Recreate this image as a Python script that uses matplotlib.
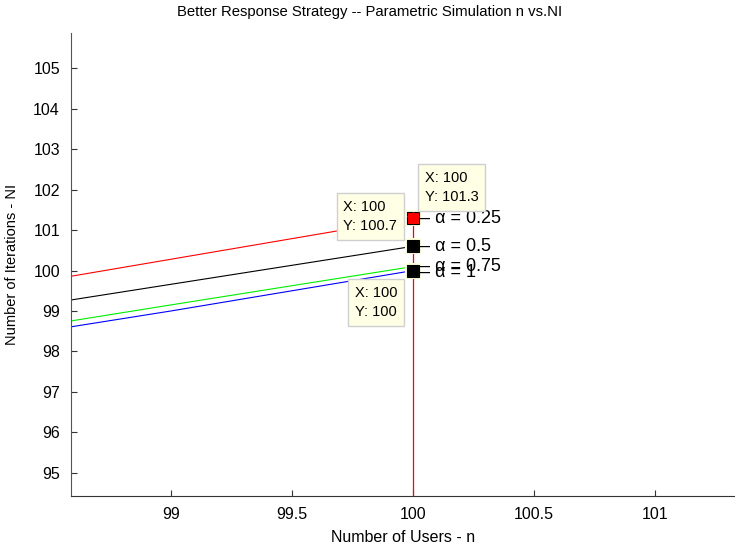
import matplotlib
matplotlib.use("Agg")
import matplotlib.pyplot as plt

plt.rcParams['font.family'] = ['Liberation Sans', 'DejaVu Sans']

# number of users n
n = [98, 99, 100]

# number of iterations NI for each alpha
ni_025 = [99.26, 100.28, 101.3]
ni_050 = [98.72, 99.66, 100.6]
ni_075 = [98.19, 99.15, 100.1]
ni_100 = [98.05, 99.0, 100.0]

alpha_labels = ['0.25', '0.5', '0.75', '1']
alpha_y = [101.3, 100.6, 100.09, 99.94]

# data tips
tip_x = [100, 100, 100]
tip_y = [101.3, 100.7, 100]
tip_marker_y = [101.3, 100.6, 100.0]

xticks = [99, 99.5, 100, 100.5, 101]
xticklabels = ['99', '99.5', '100', '100.5', '101']
yticks = [95, 96, 97, 98, 99, 100, 101, 102, 103, 104, 105]

fig = plt.figure(figsize=(7.35, 5.48), dpi=100)
ax = fig.add_axes([0.0966, 0.0955, 0.9034, 0.8437])

ax.plot(n, ni_025, color='red', lw=0.8)
ax.plot(n, ni_050, color='black', lw=0.8)
ax.plot(n, ni_075, color='#00ee00', lw=0.8)
ax.plot(n, ni_100, color='blue', lw=0.8)

# vertical red line at n = 100
ax.plot([100, 100], [ni_025[-1], 90], color='red', lw=0.9)

# data tip markers
for i, y in enumerate(tip_marker_y):
    face = 'red' if i == 0 else 'black'
    ax.plot(100, y, marker='s', ms=10, mfc=face, mec='#ffffe0', mew=1.5, zorder=5)
    ax.plot(100, y, marker='s', ms=8, mfc='none', mec='black', mew=0.8, zorder=6)
ax.plot(100, tip_marker_y[0], marker='*', ms=9, mfc='red', mec='red', zorder=7)

# alpha labels
for lab, y in zip(alpha_labels, alpha_y):
    ax.text(100.03, y, '\u2013 \u03b1 = ' + lab, fontsize=13, va='center', ha='left',
            zorder=8)

# data tip boxes
box = dict(boxstyle='square,pad=0.45', fc='#ffffe6', ec='#cfcfcf', lw=1)
offsets = [((12, 14), 'left', 'bottom'), ((-16, 13), 'right', 'bottom'),
           ((-16, -15), 'right', 'top')]
for (off, ha, va), x, y, my in zip(offsets, tip_x, tip_y, tip_marker_y):
    ax.annotate('X: %g\nY: %g' % (x, y), xy=(100, my), xycoords='data',
                xytext=off, textcoords='offset pixels', ha=ha, va=va,
                multialignment='left', fontsize=10.5, linespacing=1.5,
                bbox=box, zorder=9)

ax.set_xlim(98.587, 101.33)
ax.set_ylim(94.43, 105.87)
ax.set_xticks(xticks)
ax.set_xticklabels(xticklabels)
ax.set_yticks(yticks)
ax.tick_params(direction='in', length=4, width=0.8, labelsize=11.5, pad=8,
               color='#333333')
ax.spines['top'].set_visible(False)
ax.spines['right'].set_visible(False)
ax.spines['left'].set_color('#555555')
ax.spines['bottom'].set_color('#333333')

fig.text(370 / 735, 1 - 12 / 548, 'Better Response Strategy -- Parametric Simulation n vs.NI',
         fontsize=10.7, ha='center', va='center')
ax.set_xlabel('Number of Users - n', fontsize=11.5, labelpad=6)
ax.set_ylabel('Number of Iterations - NI', fontsize=10.5, labelpad=10)

fig.savefig('out.png', dpi=100)
